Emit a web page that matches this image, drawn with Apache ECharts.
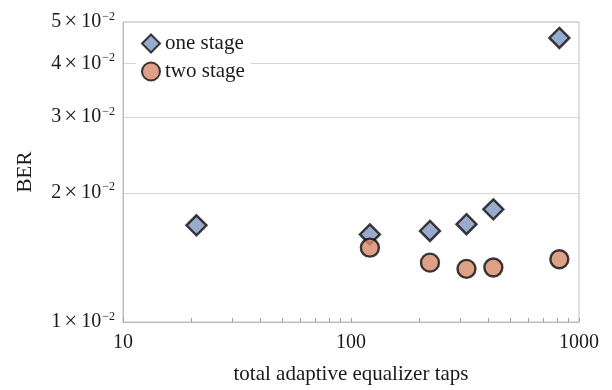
<!DOCTYPE html>
<html>
<head>
<meta charset="utf-8">
<script src="https://cdn.jsdelivr.net/npm/echarts@6/dist/echarts.min.js"></script>
<style>
  html, body { margin: 0; padding: 0; background: #fff; }
  #chart { width: 612px; height: 390px; }
</style>
</head>
<body>
<div id="chart"></div>
<script>
// Equalizer taps (x) and bit error rate (y)
const oneStageTaps = [21, 121, 222, 321, 421, 820];
const oneStageBER  = [0.0168, 0.0160, 0.0163, 0.0169, 0.0183, 0.0459];
const twoStageTaps = [121, 222, 321, 421, 820];
const twoStageBER  = [0.0149, 0.01375, 0.0133, 0.0134, 0.0140];

const xLabelValues = [10, 100, 1000];
const xTickValues  = [10, 20, 30, 40, 50, 60, 70, 80, 90,
                      100, 200, 300, 400, 500, 600, 700, 800, 900, 1000];
const yTickValues  = [0.01, 0.02, 0.03, 0.04, 0.05];

const serif = '"Liberation Serif", "DejaVu Serif", serif';
const textColor = '#1a1a1a';

const chart = echarts.init(document.getElementById('chart'), null, { renderer: 'canvas' });

function pairs(xs, ys) { return xs.map((x, i) => [x, ys[i]]); }

chart.setOption({
  animation: false,
  backgroundColor: '#fff',
  grid: {
    left: 123, right: 33, top: 22, bottom: 65,
    show: true, borderColor: '#bdbdbd', borderWidth: 1
  },
  legend: {
    left: 136, top: 29, orient: 'vertical',
    padding: [4, 6, 4, 5],
    itemGap: 7, itemWidth: 18, itemHeight: 18,
    backgroundColor: '#fff',
    textStyle: { fontFamily: serif, fontSize: 21, color: textColor },
    data: ['one stage', 'two stage']
  },
  xAxis: {
    type: 'log', logBase: 10, min: 10, max: 1000,
    name: 'total adaptive equalizer taps',
    nameLocation: 'middle', nameGap: 42,
    nameTextStyle: { fontFamily: serif, fontSize: 21, color: textColor },
    axisLine: { lineStyle: { color: '#bdbdbd', width: 1 } },
    axisTick: {
      show: true, inside: true, length: 4,
      customValues: xTickValues,
      lineStyle: { color: '#a0a0a0' }
    },
    axisLabel: {
      customValues: xLabelValues,
      fontFamily: serif, fontSize: 20, color: textColor, margin: 11,
      formatter: v => String(Math.round(v))
    },
    splitLine: { show: false }
  },
  yAxis: {
    type: 'log', logBase: 10, min: 0.01, max: 0.05,
    name: 'BER', nameLocation: 'middle', nameGap: 87, nameRotate: 90,
    nameTextStyle: { fontFamily: serif, fontSize: 21, color: textColor },
    axisLine: { show: true, lineStyle: { color: '#bdbdbd', width: 1 } },
    axisTick: { show: false, customValues: yTickValues },
    axisLabel: {
      customValues: yTickValues,
      margin: 8,
      formatter: v => '{m|' + Math.round(v * 100) + '}{x|×}{m|10}{s|−2}',
      rich: {
        m: { fontFamily: serif, fontSize: 20, color: textColor },
        x: { fontFamily: serif, fontSize: 23, color: textColor, padding: [0, 4, 0, 3] },
        s: { fontFamily: serif, fontSize: 12, color: textColor, verticalAlign: 'top', padding: [0, 0, 8, 1] }
      }
    },
    splitLine: { show: true, lineStyle: { color: '#d6d6d6', width: 1 } }
  },
  series: [
    {
      name: 'one stage', type: 'scatter',
      symbol: 'diamond', symbolSize: 20,
      itemStyle: { color: '#7f96c0', borderColor: '#0d0d0d', borderWidth: 2.4 },
      data: pairs(oneStageTaps, oneStageBER),
      z: 3
    },
    {
      name: 'two stage', type: 'scatter',
      symbol: 'circle', symbolSize: 18,
      itemStyle: { color: '#d6896a', borderColor: '#0d0d0d', borderWidth: 2.4 },
      data: pairs(twoStageTaps, twoStageBER),
      z: 4
    }
  ]
});
</script>
</body>
</html>
